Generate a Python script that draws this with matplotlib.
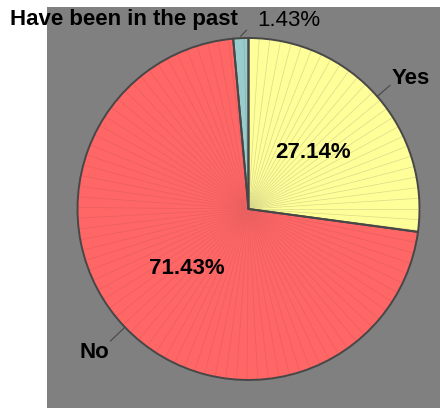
import matplotlib.pyplot as plt
import numpy as np
from matplotlib.patches import Rectangle

labels = ['Yes', 'No', 'Have been in the past']
shares = [27.14, 71.43, 1.43]
colors = ['#FFFF99', '#FF6666', '#99CCCC']
ray_colors = ['#DADA8C', '#EA6060', '#86B5B5']

plt.rcParams['font.family'] = ['Liberation Sans', 'DejaVu Sans']

fig = plt.figure(figsize=(4.4, 4.08), dpi=100)
ax = fig.add_axes([0, 0, 1, 1])

# pixel-like coordinates, y going up
cx, cy, r = 248.5, 199.0, 171.0
wedges, _ = ax.pie(shares, colors=colors, startangle=90, counterclock=False,
                   center=(cx, cy), radius=r,
                   wedgeprops=dict(edgecolor='#474747', linewidth=1.4, zorder=2))
ax.add_patch(Rectangle((47, 0), 393, 401, facecolor='#808080',
                       edgecolor='none', zorder=0))

# thin rays every 1% inside each slice
start = 90.0
mids = []
for share, rc in zip(shares, ray_colors):
    span = share * 3.6
    for k in range(1, int(share) + 1):
        if k * 3.6 >= span - 0.5:
            break
        a = np.radians(start - k * 3.6)
        ax.plot([cx, cx + r * np.cos(a)], [cy, cy + r * np.sin(a)],
                color=rc, lw=0.5, zorder=3)
    mids.append(np.radians(start - span / 2))
    start -= span

# outlines above the rays, fills below them
for w in wedges:
    w.set_zorder(4)
    w.set_facecolor('none')
ax.pie(shares, colors=colors, startangle=90, counterclock=False,
       center=(cx, cy), radius=r, wedgeprops=dict(edgecolor='none', zorder=1))
ax.set_xlim(0, 440)
ax.set_ylim(0, 408)
ax.set_aspect('equal')
ax.axis('off')

# inner percentages for the big slices
for share, m in zip(shares[:2], mids[:2]):
    ax.text(cx + 0.5 * r * np.cos(m), cy + 0.5 * r * np.sin(m), '%.2f%%' % share,
            ha='center', va='center', fontsize=16, fontweight='bold', zorder=5)


def leader(m, r0, r1, dx=0):
    x0, y0 = cx + r0 * np.cos(m), cy + r0 * np.sin(m)
    x1, y1 = cx + r1 * np.cos(m) + dx, cy + r1 * np.sin(m)
    ax.plot([x0, x1], [y0, y1], color='#474747', lw=0.8, zorder=5)


leader(mids[0], r, r + 17)
leader(mids[1], r, r + 20)
leader(mids[2], r + 2, r + 8, dx=6)

ax.text(392, 408 - 78, labels[0], ha='left', va='center',
        fontsize=16, fontweight='bold')
ax.text(109, 408 - 353, labels[1], ha='right', va='center',
        fontsize=16, fontweight='bold')
ax.text(238, 408 - 19, labels[2], ha='right', va='center',
        fontsize=16, fontweight='bold')
ax.text(257, 408 - 21, '%.2f%%' % shares[2], ha='left', va='center',
        fontsize=16)

fig.savefig('out.png', dpi=100)
